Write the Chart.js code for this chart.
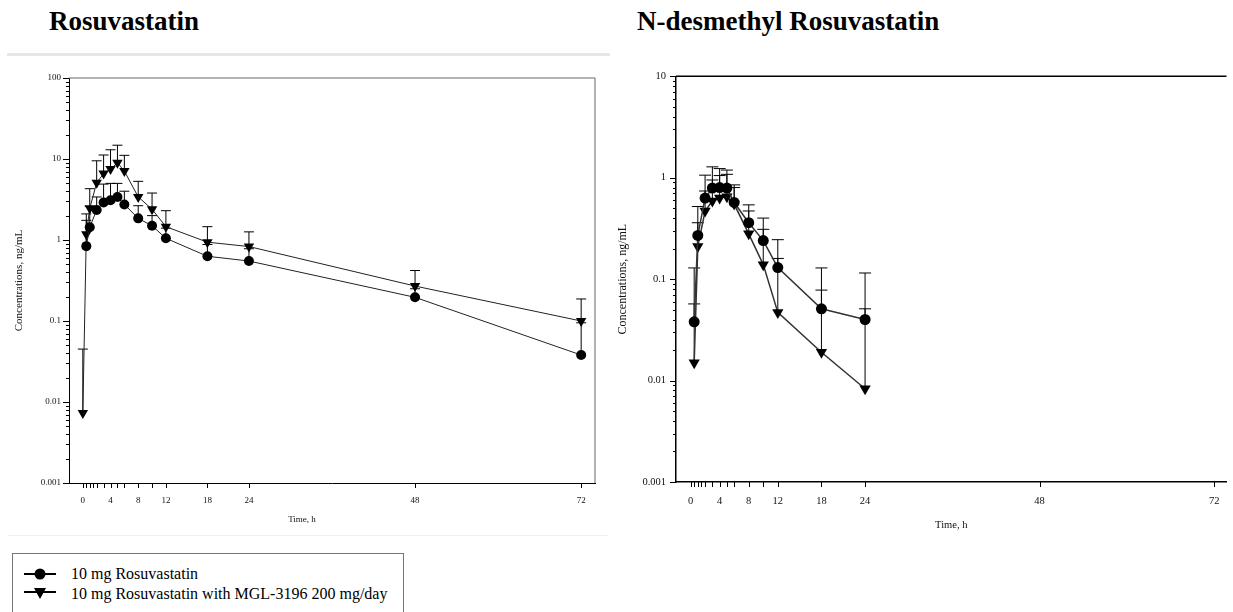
<!DOCTYPE html>
<html>
<head>
<meta charset="utf-8">
<script src="https://cdn.jsdelivr.net/npm/chart.js@4.4.0/dist/chart.umd.min.js"></script>
<style>
  body { margin: 0; width: 1233px; height: 612px; background: #fff; position: relative; overflow: hidden; font-family: 'Liberation Serif', 'Times New Roman', serif; }
  .title { position: absolute; top: 6px; font-weight: bold; font-size: 27px; color: #000; white-space: nowrap; }
  .rule { position: absolute; left: 7px; top: 53px; width: 603px; height: 3px; background: #e6e6e6; }
  .faint { position: absolute; left: 8px; top: 535px; width: 600px; height: 1px; background: #f0f0f0; }
  .panel { position: absolute; top: 60px; height: 480px; }
  .xlabel { position: absolute; font-size: 9px; color: #111; transform: translateX(-50%); white-space: nowrap; }
  .legend { position: absolute; left: 12px; top: 553px; width: 392px; height: 80px; border: 1px solid #777; box-sizing: border-box; }
  .legend .row { position: absolute; left: 10px; height: 20px; display: flex; align-items: center; font-size: 16px; color: #000; white-space: nowrap; }
  .legend svg { margin-right: 14px; }
</style>
</head>
<body>
<div class="title" style="left:49px">Rosuvastatin</div>
<div class="title" style="left:637px">N-desmethyl Rosuvastatin</div>
<div class="rule"></div>
<div class="faint"></div>

<div class="panel" style="left:0;width:610px"><canvas id="chartParent"></canvas></div>
<div class="panel" style="left:600px;width:633px"><canvas id="chartMetabolite"></canvas></div>
<div class="xlabel" style="left:302px;top:514px">Time, h</div>

<div class="legend">
  <div class="row" style="top:10px">
    <svg width="34" height="14"><line x1="1" y1="7" x2="33" y2="7" stroke="#000" stroke-width="2"/><circle cx="17" cy="7" r="5.5" fill="#000"/></svg>
    10 mg Rosuvastatin
  </div>
  <div class="row" style="top:30px">
    <svg width="34" height="14"><line x1="1" y1="5" x2="33" y2="5" stroke="#000" stroke-width="2"/><polygon points="11,1 23,1 17,12" fill="#000"/></svg>
    10 mg Rosuvastatin with MGL-3196 200 mg/day
  </div>
</div>

<script>
// sampling grid shared by both panels (tick marks), labelled subset
const sampleTicks = [0, 0.5, 1, 1.5, 2, 3, 4, 5, 6, 8, 10, 12, 18, 24, 48, 72];
const labelledTimes = [0, 4, 8, 12, 18, 24, 48, 72];

// Rosuvastatin, mean and mean+SD (ng/mL)
const rosuTimes = [0, 0.5, 1, 2, 3, 4, 5, 6, 8, 10, 12, 18, 24, 48, 72];
const rosuAlone = [null, 0.84, 1.44, 2.35, 2.9, 3.1, 3.4, 2.75, 1.85, 1.5, 1.05, 0.63, 0.55, 0.196, 0.038];
const rosuAloneUpper = [null, 1.75, 2.6, 3.4, 4.9, 5.0, 5.0, 4.0, 2.65, 2.0, 1.4, 0.88, 0.78, 0.25, 0.095];
const rosuCombo = [0.0073, 1.18, 2.46, 5.1, 6.6, 7.5, 9.0, 7.1, 3.4, 2.4, 1.46, 0.94, 0.83, 0.27, 0.1];
const rosuComboUpper = [0.045, 2.1, 4.3, 9.5, 11.2, 13.0, 14.8, 11.1, 5.3, 3.8, 2.3, 1.46, 1.26, 0.42, 0.187];

// N-desmethyl rosuvastatin, mean and mean+SD (ng/mL)
const ndmTimes = [0.5, 1, 2, 3, 4, 5, 6, 8, 10, 12, 18, 24];
const ndmAlone = [0.038, 0.27, 0.63, 0.79, 0.8, 0.79, 0.57, 0.36, 0.24, 0.13, 0.051, 0.040];
const ndmAloneUpper = [0.129, 0.52, 1.06, 1.28, 1.23, 1.19, 0.85, 0.54, 0.40, 0.245, 0.129, 0.115];
const ndmCombo = [0.015, 0.21, 0.47, 0.59, 0.63, 0.65, 0.55, 0.28, 0.139, 0.047, 0.019, 0.0083];
const ndmComboUpper = [0.057, 0.36, 0.74, 0.95, 1.05, 1.08, 0.8, 0.47, 0.31, 0.16, 0.078, 0.051];

const FONT = "'Liberation Serif', 'Times New Roman', serif";

const isDecade = v => Math.abs(Math.log10(v) - Math.round(Math.log10(v))) < 1e-6;

function logTicks(min, max) {
    const out = [];
    for (let e = Math.round(Math.log10(min)); e < Math.round(Math.log10(max)); e++) {
        for (let m = 1; m < 10; m++) out.push(Number((m * Math.pow(10, e)).toPrecision(2)));
    }
    out.push(max);
    return out;
}

const points = (xs, ys) => xs.map((x, i) => ({ x, y: ys[i] })).filter(p => p.y != null);

// vertical upper error bars with a short cap
const errorBars = {
    id: 'errorBars',
    beforeDatasetsDraw(chart) {
        const { ctx, scales: { x, y } } = chart;
        const cap = chart.options.plugins.errorBars.cap;
        ctx.save();
        ctx.strokeStyle = '#000';
        ctx.lineWidth = chart.options.plugins.errorBars.width;
        chart.data.datasets.forEach(ds => {
            ds.data.forEach((p, i) => {
                const hi = ds.upper[i];
                if (hi == null) return;
                const px = x.getPixelForValue(p.x);
                const y0 = y.getPixelForValue(p.y);
                const y1 = y.getPixelForValue(hi);
                ctx.beginPath();
                ctx.moveTo(px, y0);
                ctx.lineTo(px, y1);
                ctx.moveTo(px - cap, y1);
                ctx.lineTo(px + cap, y1);
                ctx.stroke();
            });
        });
        ctx.restore();
    }
};

// outward tick marks, long at decades, short for the minor log ticks
const tickMarks = {
    id: 'tickMarks',
    afterDraw(chart) {
        const { ctx, scales: { x, y }, chartArea: a } = chart;
        const opts = chart.options.plugins.tickMarks;
        ctx.save();
        ctx.strokeStyle = '#000';
        ctx.lineWidth = 1;
        ctx.beginPath();
        x.ticks.forEach(t => {
            const px = Math.round(x.getPixelForValue(t.value)) + 0.5;
            ctx.moveTo(px, a.bottom);
            ctx.lineTo(px, a.bottom + 5);
        });
        y.ticks.forEach(t => {
            const py = Math.round(y.getPixelForValue(t.value)) + 0.5;
            ctx.moveTo(a.left, py);
            ctx.lineTo(a.left - (isDecade(t.value) ? 6 : 3), py);
        });
        ctx.stroke();
        // top edge (and right edge for the boxed panel)
        ctx.strokeStyle = opts.frameColor;
        ctx.lineWidth = opts.frameWidth;
        ctx.beginPath();
        ctx.moveTo(a.left, a.top);
        ctx.lineTo(a.right, a.top);
        if (opts.boxed) ctx.lineTo(a.right, a.bottom);
        ctx.stroke();
        ctx.restore();
    }
};

function makeChart(id, cfg) {
    const ctx = document.getElementById(id).getContext('2d');
    return new Chart(ctx, {
        type: 'line',
        data: {
            datasets: [
                {
                    label: '10 mg Rosuvastatin',
                    data: points(cfg.times, cfg.alone),
                    upper: cfg.aloneUpper.filter((v, i) => cfg.alone[i] != null),
                    borderColor: cfg.lineColor,
                    borderWidth: cfg.lineWidth,
                    pointStyle: 'circle',
                    pointRadius: cfg.circleR,
                    pointBackgroundColor: '#000',
                    pointBorderColor: '#000',
                    pointBorderWidth: 0,
                    tension: 0
                },
                {
                    label: '10 mg Rosuvastatin with MGL-3196 200 mg/day',
                    data: points(cfg.times, cfg.combo),
                    upper: cfg.comboUpper.filter((v, i) => cfg.combo[i] != null),
                    borderColor: cfg.lineColor,
                    borderWidth: cfg.lineWidth,
                    pointStyle: 'triangle',
                    rotation: 180,
                    pointRadius: cfg.triR,
                    pointBackgroundColor: '#000',
                    pointBorderColor: '#000',
                    pointBorderWidth: 0,
                    tension: 0
                }
            ]
        },
        options: {
            responsive: true,
            maintainAspectRatio: false,
            animation: false,
            events: [],
            layout: { padding: cfg.padding },
            plugins: {
                legend: { display: false },
                tooltip: { enabled: false },
                errorBars: { cap: cfg.cap, width: 1 },
                tickMarks: { boxed: cfg.boxed, frameColor: cfg.frameColor, frameWidth: cfg.frameWidth }
            },
            scales: {
                x: {
                    type: 'linear',
                    min: -2,
                    max: cfg.xMax,
                    afterBuildTicks: s => { s.ticks = sampleTicks.map(v => ({ value: v })); },
                    afterFit: s => { s.height = cfg.xHeight; },
                    grid: { display: false, drawTicks: false },
                    border: { display: true, color: '#000', width: cfg.axisWidth },
                    ticks: {
                        autoSkip: false,
                        maxRotation: 0,
                        padding: cfg.xPad,
                        color: '#111',
                        font: { family: FONT, size: cfg.tickSize },
                        callback: v => labelledTimes.includes(v) ? String(v) : ''
                    },
                    title: {
                        display: cfg.xTitle,
                        text: 'Time, h',
                        color: '#111',
                        font: { family: FONT, size: cfg.tickSize },
                        padding: { top: 0, bottom: cfg.xTitlePad }
                    }
                },
                y: {
                    type: 'logarithmic',
                    min: cfg.yMin,
                    max: cfg.yMax,
                    afterBuildTicks: s => { s.ticks = logTicks(cfg.yMin, cfg.yMax).map(v => ({ value: v })); },
                    afterFit: s => { s.width = cfg.yWidth; },
                    grid: { display: false, drawTicks: false },
                    border: { display: true, color: '#000', width: cfg.axisWidth },
                    ticks: {
                        autoSkip: false,
                        padding: cfg.yPad,
                        color: '#111',
                        font: { family: FONT, size: cfg.tickSize },
                        callback: v => isDecade(v) ? String(Number(v.toPrecision(1))) : ''
                    },
                    title: {
                        display: true,
                        text: 'Concentrations, ng/mL',
                        color: '#111',
                        font: { family: FONT, size: cfg.yTitleSize },
                        padding: { top: cfg.yTitlePad, bottom: 0 }
                    }
                }
            }
        },
        plugins: [errorBars, tickMarks]
    });
}

makeChart('chartParent', {
    times: rosuTimes, alone: rosuAlone, aloneUpper: rosuAloneUpper, combo: rosuCombo, comboUpper: rosuComboUpper,
    xMax: 74, yMin: 0.001, yMax: 100,
    padding: { top: 18, right: 15, left: 0, bottom: 0 },
    yWidth: 69, xHeight: 57, yPad: 8, xPad: 12, xTitle: false, xTitlePad: 14, yTitlePad: 13, yTitleSize: 11,
    tickSize: 9, lineColor: '#222', lineWidth: 1, axisWidth: 1, circleR: 5, triR: 6, cap: 5,
    boxed: true, frameColor: '#666', frameWidth: 1
});

makeChart('chartMetabolite', {
    times: ndmTimes, alone: ndmAlone, aloneUpper: ndmAloneUpper, combo: ndmCombo, comboUpper: ndmComboUpper,
    xMax: 73.7, yMin: 0.001, yMax: 10,
    padding: { top: 14, right: 0, left: 0, bottom: 0 },
    yWidth: 76, xHeight: 58, yPad: 10, xPad: 13, xTitle: true, xTitlePad: 8, yTitlePad: 16, yTitleSize: 12,
    tickSize: 10.5, lineColor: '#333', lineWidth: 1.5, axisWidth: 1.5, circleR: 5.5, triR: 6.5, cap: 6,
    boxed: false, frameColor: '#000', frameWidth: 1.5
});
</script>
</body>
</html>
